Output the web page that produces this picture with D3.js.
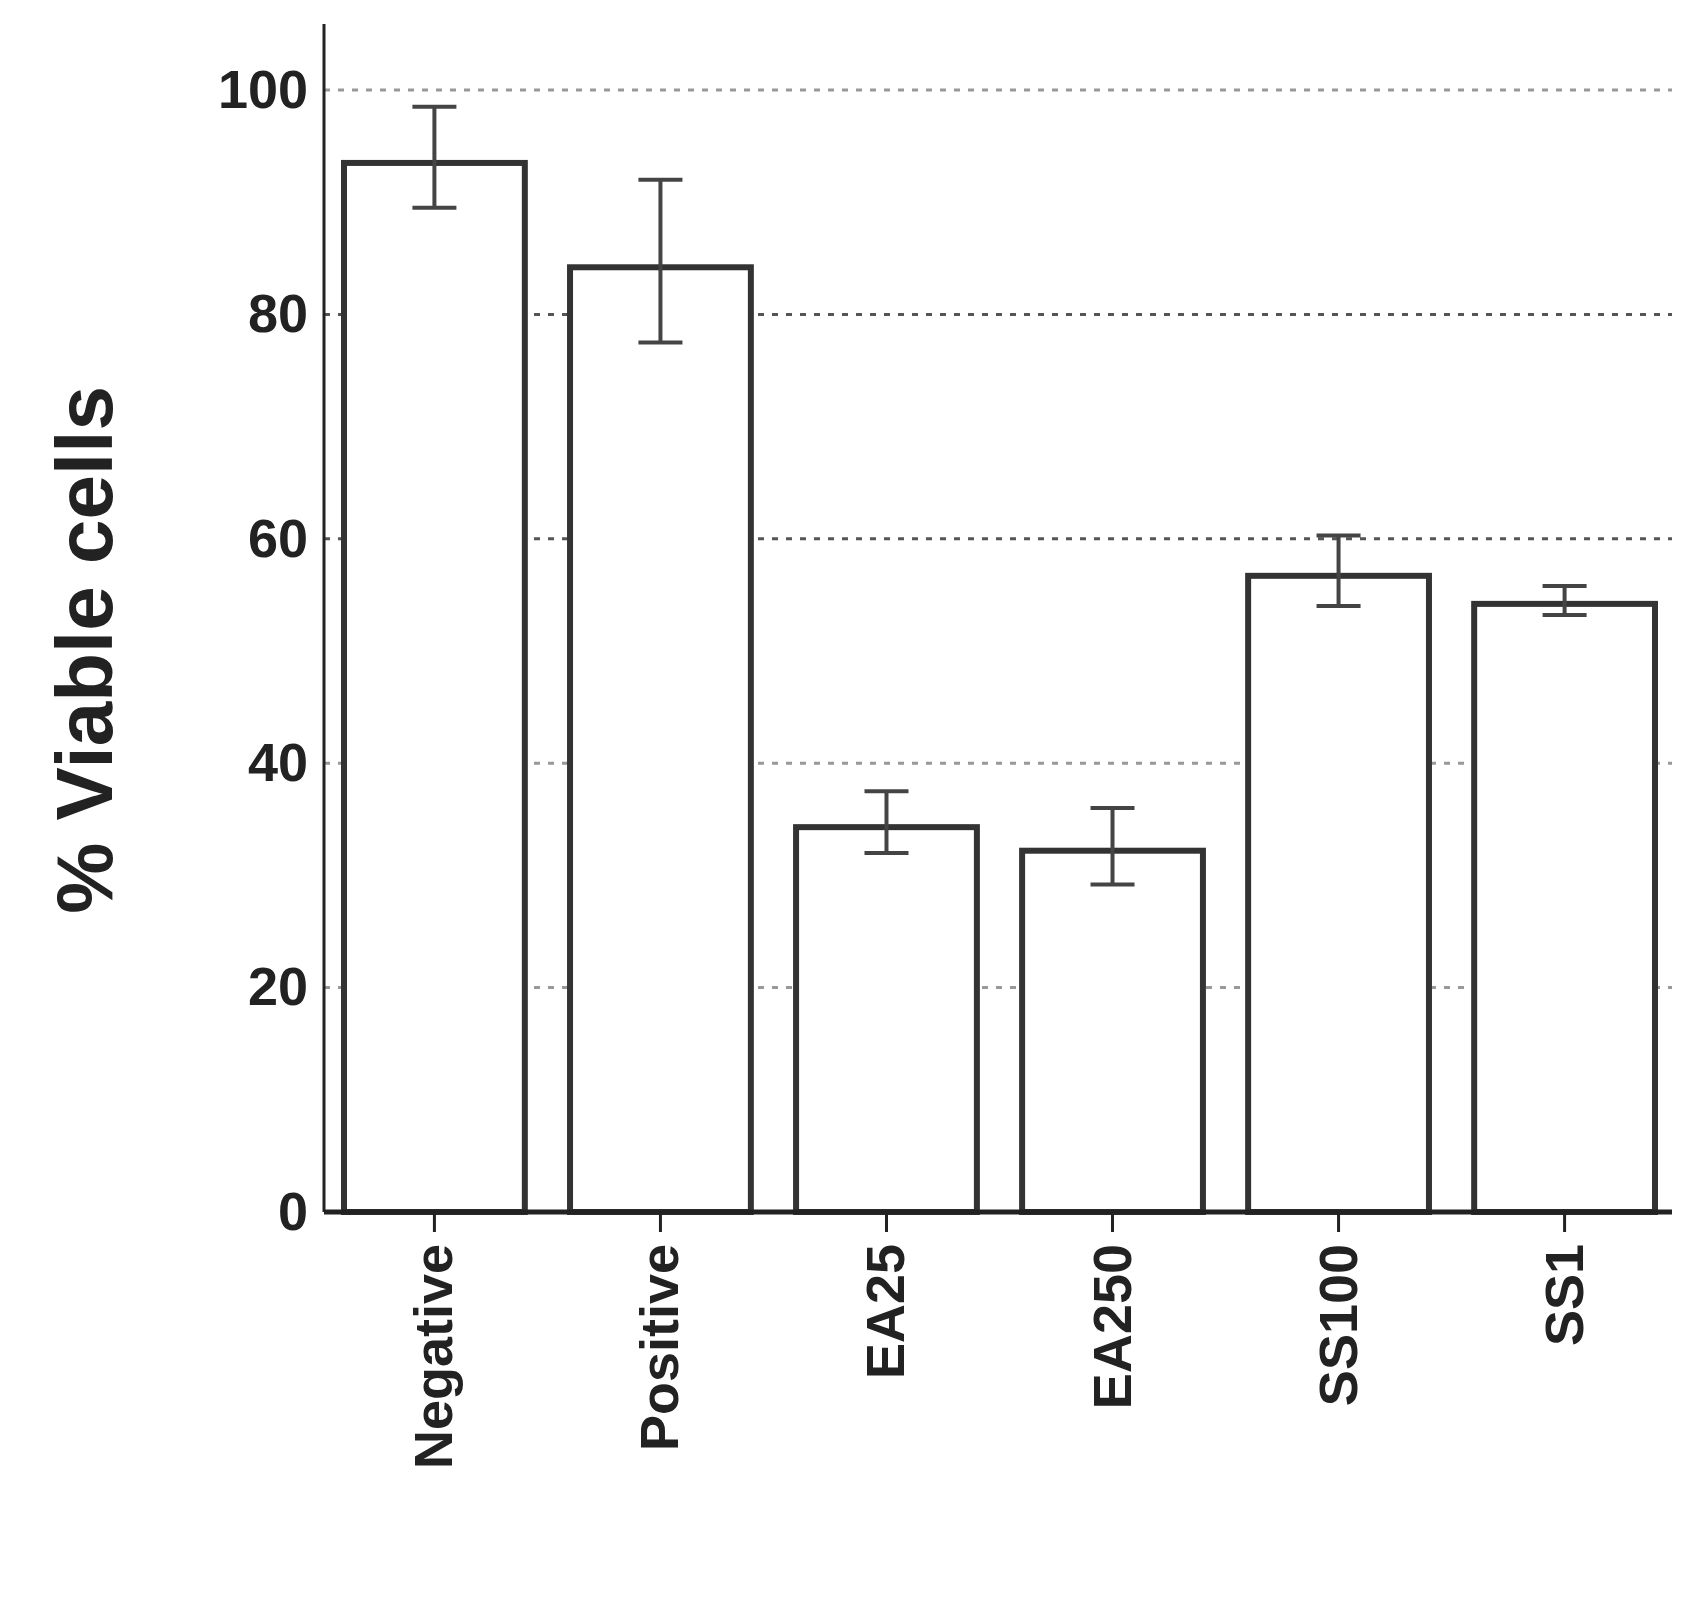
<!DOCTYPE html>
<html><head><meta charset="utf-8">
<script src="https://cdn.jsdelivr.net/npm/d3@7"></script>
<style>body{margin:0;background:#fff}</style>
</head><body><div id="chart"></div>
<script>
// data
const categories = ["Negative", "Positive", "EA25", "EA250", "SS100", "SS1"];
const means = [93.5, 84.2, 34.3, 32.2, 56.7, 54.2];
const errLow = [89.5, 77.5, 32.0, 29.2, 54.0, 53.2];
const errHigh = [98.5, 92.0, 37.5, 36.0, 60.3, 55.8];
const yTicks = [0, 20, 40, 60, 80, 100];

const W = 1695, H = 1611;
const plotL = 324, plotR = 1672, plotT = 24, plotB = 1212;

const svg = d3.select("#chart").append("svg")
  .attr("width", W).attr("height", H);

const x = d3.scaleBand().domain(categories)
  .range([344, 1655]).paddingInner(0.2).paddingOuter(0);
const y = d3.scaleLinear().domain([0, 100]).range([plotB, 90]);

// dashed gridlines
svg.append("g").selectAll("line").data(yTicks.filter(d => d > 0)).join("line")
  .attr("x1", plotL).attr("x2", plotR)
  .attr("y1", d => y(d)).attr("y2", d => y(d))
  .attr("stroke", d => d === 60 || d === 80 ? "#555" : "#999")
  .attr("stroke-width", 3).attr("stroke-dasharray", "6,8");

// bars
svg.append("g").selectAll("rect").data(categories).join("rect")
  .attr("x", d => x(d)).attr("width", x.bandwidth())
  .attr("y", (d, i) => y(means[i]))
  .attr("height", (d, i) => plotB - y(means[i]))
  .attr("fill", "#fff").attr("stroke", "#333").attr("stroke-width", 6);

// error bars
const eb = svg.append("g").attr("stroke", "#444").attr("stroke-width", 4);
categories.forEach((c, i) => {
  const cx = x(c) + x.bandwidth() / 2;
  eb.append("line").attr("x1", cx).attr("x2", cx)
    .attr("y1", y(errLow[i])).attr("y2", y(errHigh[i]));
  [errLow[i], errHigh[i]].forEach(v => {
    eb.append("line").attr("x1", cx - 22).attr("x2", cx + 22)
      .attr("y1", y(v)).attr("y2", y(v));
  });
});

// y axis
const yAxis = svg.append("g").attr("transform", `translate(${plotL},0)`)
  .call(d3.axisLeft(y).tickValues(yTicks).tickSize(0).tickPadding(16));
yAxis.select(".domain").remove();
yAxis.selectAll("text").attr("font-family", "Liberation Sans, Arial, sans-serif")
  .attr("font-weight", "bold").attr("font-size", 54).attr("fill", "#222");
svg.append("line").attr("x1", plotL).attr("x2", plotL).attr("y1", plotT).attr("y2", plotB)
  .attr("stroke", "#222").attr("stroke-width", 3);

// x axis
svg.append("line").attr("x1", plotL).attr("x2", plotR).attr("y1", plotB).attr("y2", plotB)
  .attr("stroke", "#222").attr("stroke-width", 5);
svg.append("g").selectAll("line").data(categories).join("line")
  .attr("x1", d => x(d) + x.bandwidth() / 2).attr("x2", d => x(d) + x.bandwidth() / 2)
  .attr("y1", plotB).attr("y2", plotB + 20)
  .attr("stroke", "#222").attr("stroke-width", 3);
svg.append("g").selectAll("text").data(categories).join("text")
  .attr("transform", d => `translate(${x(d) + x.bandwidth() / 2 + 18},${plotB + 32}) rotate(-90)`)
  .attr("text-anchor", "end")
  .attr("font-family", "Liberation Sans, Arial, sans-serif")
  .attr("font-weight", "bold").attr("font-size", 54).attr("fill", "#222")
  .text(d => d);

// y label
svg.append("text")
  .attr("transform", `translate(112,650) rotate(-90)`)
  .attr("text-anchor", "middle")
  .attr("font-family", "Liberation Sans, Arial, sans-serif")
  .attr("font-weight", "bold").attr("font-size", 80).attr("fill", "#222")
  .text("% Viable cells");
</script>
</body></html>
